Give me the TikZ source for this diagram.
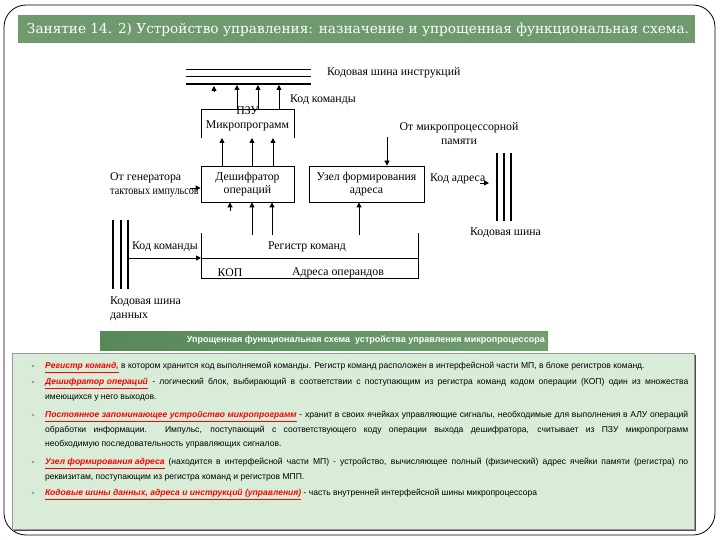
\documentclass[tikz,border=0pt]{standalone}
\usepackage{fontspec}
\setmainfont{Liberation Serif}
\newfontfamily\bodyfont{Liberation Sans}
\newfontfamily\titlefont{DejaVu Serif}
\usetikzlibrary{arrows.meta}
\definecolor{titlegreen}{RGB}{110,154,110}
\definecolor{capdark}{RGB}{88,136,88}
\definecolor{caplight}{RGB}{112,158,112}
\definecolor{boxfill}{RGB}{216,236,216}
\definecolor{bulletgray}{RGB}{150,160,150}
\newcommand\lnk[1]{\textcolor{red}{\bfseries\itshape\underline{#1}}}
\begin{document}
\begin{tikzpicture}[x=1pt,y=-1pt,
  ln/.style={line width=0.8pt},
  arr/.style={line width=0.8pt,-{Triangle[length=5pt,width=5pt]}},
  lbl/.style={inner sep=0pt,font=\fontsize{11.8}{14}\selectfont},
  blk/.style={draw,line width=0.8pt,inner sep=0pt,align=center,font=\fontsize{11.8}{13.5}\selectfont},
  para/.style={anchor=north west,text width=643pt,align=justify,inner sep=0pt,font=\bodyfont\fontsize{8.55}{14.5}\selectfont},
  bul/.style={circle,fill=bulletgray,inner sep=0pt,minimum size=2.6pt}]
\useasboundingbox (0,0) rectangle (720,540);
\fill[white] (0,0) rectangle (720,540);
% outer frame
\draw[line width=0.8pt,rounded corners=22pt] (4,5) rectangle (715,535);
% title bar
\fill[titlegreen] (18,15) rectangle (695,43);
\node[inner sep=0pt,text=white] (title) at (358,30) {\resizebox{662pt}{!}{\titlefont\fontsize{13}{15}\selectfont Занятие 14. 2) Устройство управления: назначение и упрощенная функциональная схема.}};

% ---------------- diagram ----------------
% instruction bus
\coordinate (ib1w) at (186,69); \coordinate (ib1e) at (311,69);
\coordinate (ib2w) at (186,76); \coordinate (ib2e) at (311,76);
\coordinate (ib3w) at (186,84); \coordinate (ib3e) at (311,84);
\draw[ln] (ib1w) -- (ib1e);
\draw[ln] (ib2w) -- (ib2e);
\draw[line width=1.6pt] (ib3w) -- (ib3e);
\node[lbl,anchor=west] (ibl) at (327,73) {Кодовая шина инструкций};
\node[lbl,anchor=west] (kk1) at (290,100) {Код команды};

% PZU bracket
\coordinate (pzl) at (201,138); \coordinate (pzr) at (294,138);
\coordinate (pztl) at (201,109); \coordinate (pztr) at (294,109);
\draw[ln] (pzl) -- (pztl) -- (pztr) -- (pzr);
\node[lbl] (pzu) at (247.5,111) {ПЗУ};
\node[lbl] (mpr) at (247.5,126) {Микропрограмм};

% arrows PZU -> bus
\coordinate (p0) at (214,92); \coordinate (b0) at (214,86);
\draw[arr] (p0) -- (b0);
\coordinate (p1) at (237,109); \coordinate (b1) at (237,85);
\coordinate (p2) at (258,109); \coordinate (b2) at (258,85);
\coordinate (p3) at (279,109); \coordinate (b3) at (279,85);
\draw[arr] (p1) -- (b1);
\draw[arr] (p2) -- (b2);
\draw[arr] (p3) -- (b3);

% decoder
\node[blk,minimum width=93pt,minimum height=36pt] (dec) at (247.5,184) {Дешифратор\\операций};
\coordinate (d1) at (222,138); \coordinate (d2) at (252,138); \coordinate (d3) at (273,138);
\draw[arr] (dec.north -| d1) -- (d1);
\draw[arr] (dec.north -| d2) -- (d2);
\draw[arr] (dec.north -| d3) -- (d3);

% address unit
\node[blk,minimum width=115pt,minimum height=36pt] (adr) at (366.5,184) {Узел формирования\\адреса};
\node[lbl,align=center] (mem) at (459,134) {От микропроцессорной\\памяти};
\coordinate (ma) at (387,137);
\draw[arr] (ma) -- (adr.north -| ma);

% generator
\node[lbl,anchor=west,align=left] (gen) at (110,185) {От генератора\\\scalebox{0.86}[1]{тактовых импульсов}};
\coordinate (g0) at (190,188);
\draw[arr] (g0) -- (dec.west |- g0);

% code address
\node[lbl,anchor=west] (kad) at (430,179) {Код адреса};
\coordinate (ka0) at (480,183); \coordinate (ka1) at (489,183);
\draw[arr] (ka0) -- (ka1);

% right bus
\coordinate (rb1t) at (497,153); \coordinate (rb1b) at (497,221);
\coordinate (rb2t) at (504,153); \coordinate (rb2b) at (504,221);
\coordinate (rb3t) at (511,153); \coordinate (rb3b) at (511,221);
\draw[line width=1.4pt] (rb1t) -- (rb1b);
\draw[line width=1.4pt] (rb2t) -- (rb2b);
\draw[line width=1.4pt] (rb3t) -- (rb3b);
\node[lbl,anchor=west] (rbl) at (470,233) {Кодовая шина};

% register
\coordinate (rtl) at (201,233); \coordinate (rtr) at (418,233);
\coordinate (rml) at (201,258); \coordinate (rmr) at (418,258);
\coordinate (rbl0) at (201,278); \coordinate (rbr) at (418,278);
\draw[ln] (rtl) -- (rbl0) -- (rbr) -- (rtr);
\draw[ln] (rml) -- (rmr);
\node[lbl] (reg) at (307,247) {Регистр команд};
\node[lbl] (kop) at (230,273) {КОП};
\node[lbl] (aop) at (338,273) {Адреса операндов};

% arrows register -> decoder / address unit
\coordinate (r0) at (230,211);
\draw[arr] (r0) -- (dec.south -| r0);
\coordinate (r1) at (252,235); \coordinate (r2) at (272,235); \coordinate (r3) at (359,235);
\draw[arr] (r1) -- (dec.south -| r1);
\draw[arr] (r2) -- (dec.south -| r2);
\draw[arr] (r3) -- (adr.south -| r3);

% left bus
\coordinate (lb1t) at (113,220); \coordinate (lb1b) at (113,289);
\coordinate (lb2t) at (121,220); \coordinate (lb2b) at (121,289);
\coordinate (lb3t) at (128,220); \coordinate (lb3b) at (128,289);
\draw[line width=1.4pt] (lb1t) -- (lb1b);
\draw[line width=1.4pt] (lb2t) -- (lb2b);
\draw[line width=1.4pt] (lb3t) -- (lb3b);
\node[lbl,anchor=west] (kk2) at (132,247) {Код команды};
\draw[arr] (lb3t |- rml) -- (rml);
\node[lbl,anchor=west,align=left] (lbl) at (110,309) {Кодовая шина\\данных};

% caption bar
\shade[left color=capdark,right color=caplight] (100,331) rectangle (548,350);
\node[inner sep=0pt,text=white,anchor=east] (cap) at (545,340.5) {\resizebox{358pt}{!}{\bodyfont\bfseries\fontsize{8.5}{10}\selectfont Упрощенная функциональная схема\ \ устройства управления микропроцессора}};

% text box
\fill[black!70] (14,355) rectangle (696,531);
\draw[fill=boxfill,draw=black!40,line width=0.4pt] (12,353) rectangle (694,529);

\node[bul] (u1) at (33,366) {};
\node[bul] (u2) at (33,382) {};
\node[bul] (u3) at (33,415) {};
\node[bul] (u4) at (33,462) {};
\node[bul] (u5) at (33,493) {};

\node[para] (t1) at (45,362) {\lnk{Регистр команд,} в котором хранится код выполняемой команды. Регистр команд расположен в интерфейсной части МП, в блоке регистров команд.};
\node[para] (t2) at (45,378) {\lnk{Дешифратор операций} - логический блок, выбирающий в соответствии с поступающим из регистра команд кодом операции (КОП) один из множества\linebreak имеющихся у него выходов.};
\node[para] (t3) at (45,411) {\lnk{Постоянное запоминающее устройство микропрограмм} - хранит в своих ячейках управляющие сигналы, необходимые для выполнения в АЛУ операций\linebreak обработки информации. Импульс, поступающий с соответствующего коду операции выхода дешифратора, считывает из ПЗУ микропрограмм\linebreak необходимую последовательность управляющих сигналов.};
\node[para] (t4) at (45,458) {\lnk{Узел формирования адреса} (находится в интерфейсной части МП) - устройство, вычисляющее полный (физический) адрес ячейки памяти (регистра) по\linebreak реквизитам, поступающим из регистра команд и регистров МПП.};
\node[para] (t5) at (45,489) {\lnk{Кодовые шины данных, адреса и инструкций (управления)} - часть внутренней интерфейсной шины микропроцессора};
\end{tikzpicture}
\end{document}
